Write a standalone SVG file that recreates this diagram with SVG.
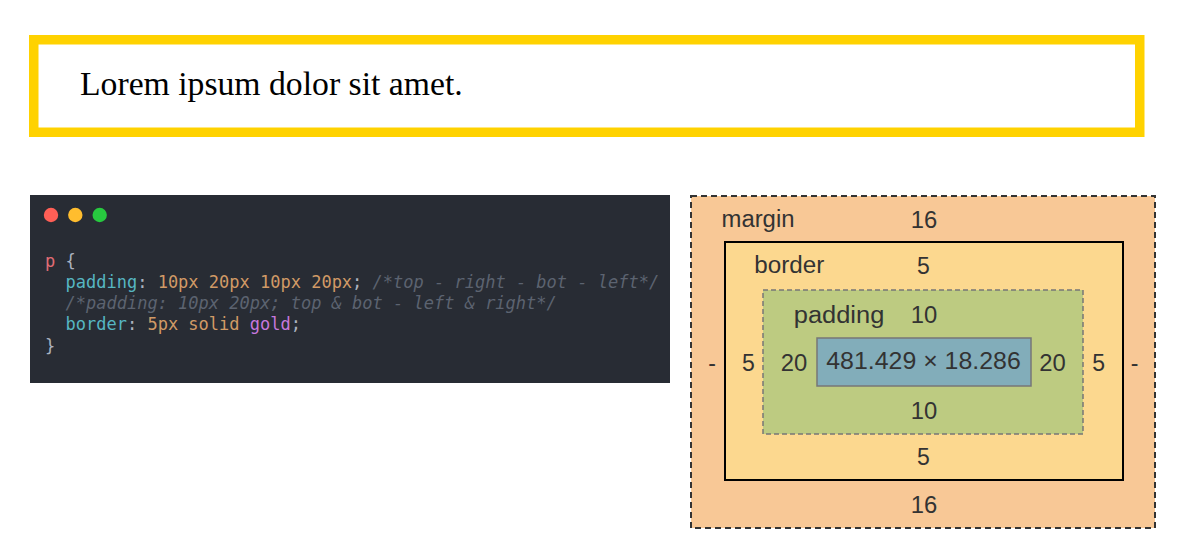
<svg xmlns="http://www.w3.org/2000/svg" width="1190" height="538" viewBox="0 0 1190 538">
<style>
.code{font-family:"DejaVu Sans Mono","Liberation Mono",monospace;font-size:17px;}
.pun{fill:#abb2bf}.sel{fill:#e06c75}.prop{fill:#56b6c2}.val{fill:#d19a66}.kw{fill:#c678dd}
.cm{fill:#5c6370;font-style:italic}
.bm{font-family:"Liberation Sans",Arial,sans-serif;font-size:23px;fill:#333;}
.c{text-anchor:middle}
</style>
<rect width="1190" height="538" fill="#ffffff"/>
<g id="paragraph">
<rect x="33.75" y="39.75" width="1106" height="92.5" fill="#ffffff" stroke="#ffd200" stroke-width="9.5"/>
<text x="80" y="95" font-family="Liberation Serif,'Times New Roman',serif" font-size="33.7" fill="#000">Lorem ipsum dolor sit amet.</text>
</g>
<g id="code">
<rect x="30" y="195" width="640" height="188" fill="#282c34"/>
<circle cx="51" cy="215" r="7.2" fill="#ff5f56"/>
<circle cx="75.3" cy="215" r="7.2" fill="#ffbd2e"/>
<circle cx="99.7" cy="215" r="7.2" fill="#27c93f"/>
<text class="code" x="45" y="266.5"><tspan class="sel">p</tspan><tspan class="pun"> {</tspan></text>
<text class="code" x="65.5" y="287.8"><tspan class="prop">padding</tspan><tspan class="pun">: </tspan><tspan class="val">10px 20px 10px 20px</tspan><tspan class="pun">; </tspan><tspan class="cm">/*top - right - bot - left*/</tspan></text>
<text class="code cm" x="65.5" y="309">/*padding: 10px 20px; top &amp; bot - left &amp; right*/</text>
<text class="code" x="65.5" y="330.2"><tspan class="prop">border</tspan><tspan class="pun">: </tspan><tspan class="val">5px solid </tspan><tspan class="kw">gold</tspan><tspan class="pun">;</tspan></text>
<text class="code pun" x="45" y="351.5">}</text>
</g>
<g id="box-model">
<g id="margin-box">
<rect x="691" y="196" width="464" height="332" fill="#f8c896" stroke="#333" stroke-width="2" stroke-dasharray="6,4"/>
<text class="bm" x="721.5" y="227.3" textLength="73" lengthAdjust="spacingAndGlyphs">margin</text>
<text class="bm c" x="924" y="228.3" textLength="26.5" lengthAdjust="spacingAndGlyphs">16</text>
<text class="bm c" x="712" y="370.7">-</text>
<text class="bm c" x="1134.5" y="370.7">-</text>
<text class="bm c" x="924" y="513" textLength="26.5" lengthAdjust="spacingAndGlyphs">16</text>
</g>
<g id="border-box">
<rect x="725" y="242" width="398" height="238" fill="#fcd88f" stroke="#000" stroke-width="2"/>
<text class="bm" x="754.3" y="273.3" textLength="70" lengthAdjust="spacingAndGlyphs">border</text>
<text class="bm c" x="923.5" y="274">5</text>
<text class="bm c" x="748.4" y="370.7">5</text>
<text class="bm c" x="1098.7" y="370.7">5</text>
<text class="bm c" x="923.5" y="464.5">5</text>
</g>
<g id="padding-box">
<rect x="763" y="290" width="320" height="144" fill="#bdcb81" stroke="#777" stroke-width="1.5" stroke-dasharray="5,3"/>
<text class="bm" x="793.8" y="323.2" textLength="90.5" lengthAdjust="spacingAndGlyphs">padding</text>
<text class="bm c" x="924" y="322.7" textLength="26.5" lengthAdjust="spacingAndGlyphs">10</text>
<text class="bm c" x="794" y="370.7" textLength="26.5" lengthAdjust="spacingAndGlyphs">20</text>
<text class="bm c" x="1052.6" y="370.7" textLength="26.5" lengthAdjust="spacingAndGlyphs">20</text>
<text class="bm c" x="924" y="418.6" textLength="26.5" lengthAdjust="spacingAndGlyphs">10</text>
</g>
<g id="content-box">
<rect x="817" y="338" width="214" height="48" fill="#82adba" stroke="#777" stroke-width="1.5"/>
<text class="bm c" x="923.5" y="369.3" textLength="194.5" lengthAdjust="spacingAndGlyphs">481.429 × 18.286</text>
</g>
</g>
<g id="connectors"/>
</svg>
